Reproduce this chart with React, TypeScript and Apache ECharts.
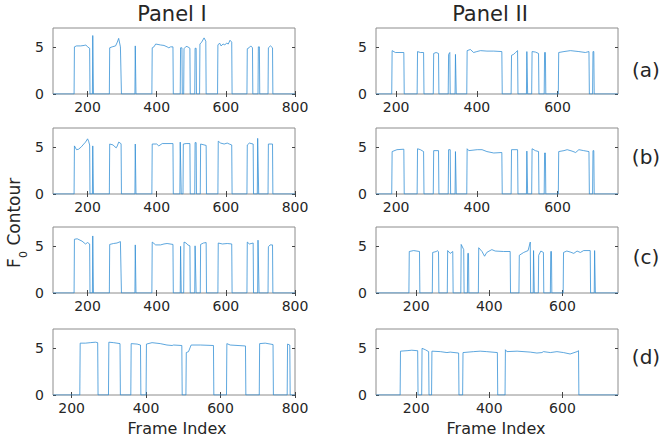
import React, { useEffect, useRef } from "react";
import * as echarts from "echarts";

type Pt = [number, number];
type Seg = Pt[];

// Panel I, row (a)
const p1a: Seg[] = [
  [[162, 5.0], [168, 5.1], [180, 5.1], [190, 5.15], [195, 5.2], [200, 5.0], [206, 4.85]],
  [[215, 6.2], [216, 6.2]],
  [[264, 4.9], [271, 5.0], [281, 5.1], [286, 5.5], [290, 5.9], [295, 5.0], [297, 5.0]],
  [[338, 5.1], [339, 5.1]],
  [[387, 4.9], [392, 5.0], [397, 5.3], [411, 5.2], [421, 5.15], [430, 5.0], [435, 4.9], [440, 5.0], [447, 5.0]],
  [[469, 4.9], [473, 4.9]],
  [[479, 4.8], [485, 5.05], [490, 5.0], [496, 4.85]],
  [[511, 4.85], [514, 4.85]],
  [[525, 5.3], [530, 5.5], [537, 5.95], [542, 5.6]],
  [[577, 5.2], [582, 5.4], [586, 5.1], [592, 5.3], [597, 5.2], [602, 5.4], [607, 5.3], [612, 5.7], [617, 5.5]],
  [[662, 4.8], [667, 4.9], [672, 5.1], [677, 4.9]],
  [[694, 5.0], [697, 5.0]],
  [[723, 4.9], [729, 5.1], [735, 4.9]],
];
// Panel I, row (b)
const p1b: Seg[] = [
  [[162, 5.1], [168, 4.7], [174, 4.75], [182, 5.0], [189, 5.3], [194, 5.5], [200, 5.85], [203, 5.6], [206, 5.2]],
  [[215, 5.1], [216, 5.1]],
  [[264, 5.3], [274, 5.2], [279, 5.0], [283, 4.9], [286, 5.1], [290, 5.5], [295, 5.4], [297, 5.3]],
  [[338, 5.3], [339, 5.3]],
  [[387, 5.3], [400, 5.3], [406, 5.1], [416, 5.35], [447, 5.35]],
  [[468, 5.5], [470, 5.5]],
  [[477, 5.3], [485, 5.35], [496, 5.35]],
  [[511, 5.45], [514, 5.45]],
  [[527, 5.3], [543, 5.15]],
  [[578, 5.6], [585, 5.4], [595, 5.3], [604, 5.4], [610, 5.3], [617, 5.2]],
  [[662, 5.2], [668, 5.4], [679, 5.3]],
  [[692, 5.9], [694, 5.9]],
  [[723, 5.3], [735, 5.3]],
];
// Panel I, row (c)
const p1c: Seg[] = [
  [[162, 5.7], [170, 5.75], [184, 5.5], [194, 5.2], [200, 5.35], [206, 5.2]],
  [[215, 6.05], [216, 6.05]],
  [[264, 5.15], [275, 5.25], [285, 5.3], [295, 5.45], [297, 5.45]],
  [[338, 5.1], [339, 5.1]],
  [[387, 5.4], [397, 5.1], [411, 5.1], [421, 5.2], [430, 5.25], [447, 5.15]],
  [[469, 4.95], [470, 4.95]],
  [[479, 5.4], [485, 5.3], [490, 5.1], [496, 5.0]],
  [[511, 5.0], [513, 5.0]],
  [[527, 5.15], [535, 5.3], [543, 5.35]],
  [[578, 5.3], [590, 5.2], [604, 5.25], [617, 5.2]],
  [[662, 5.4], [668, 5.2], [679, 5.3]],
  [[693, 5.6], [695, 5.6]],
  [[723, 4.9], [728, 5.1], [735, 5.1]],
];
// Panel I, row (d)
const p1d: Seg[] = [
  [[223, 5.5], [237, 5.5], [250, 5.55], [264, 5.6], [270, 5.55]],
  [[300, 5.6], [313, 5.55], [330, 5.45]],
  [[360, 5.45], [376, 5.4], [385, 5.3]],
  [[401, 5.4], [416, 5.55], [438, 5.45], [456, 5.3], [470, 5.25], [474, 5.3], [496, 5.25]],
  [[508, 4.5], [514, 4.6], [521, 5.3], [546, 5.3], [581, 5.25]],
  [[617, 5.45], [626, 5.3], [667, 5.2]],
  [[705, 5.45], [720, 5.5], [741, 5.35]],
  [[780, 5.4], [786, 5.3]],
];
// Panel II, row (a)
const p2a: Seg[] = [
  [[190, 4.6], [198, 4.4], [219, 4.4]],
  [[253, 4.5], [260, 4.4], [268, 4.4]],
  [[293, 4.3], [299, 4.4], [305, 4.3]],
  [[330, 4.2], [333, 4.4]],
  [[347, 4.2], [348, 4.2]],
  [[376, 4.6], [384, 4.72], [392, 4.4], [400, 4.5], [409, 4.6], [425, 4.55], [442, 4.55], [462, 4.5]],
  [[486, 4.1], [491, 4.2], [496, 4.4], [501, 4.6]],
  [[524, 4.5], [525, 4.5]],
  [[537, 4.5], [545, 4.45], [553, 4.3]],
  [[568, 4.4], [570, 4.4]],
  [[603, 4.4], [616, 4.5], [632, 4.6], [653, 4.5], [669, 4.4], [678, 4.5]],
  [[688, 4.5], [690, 4.5]],
];
// Panel II, row (b)
const p2b: Seg[] = [
  [[190, 4.5], [202, 4.7], [219, 4.75]],
  [[253, 4.8], [260, 4.7], [268, 4.5]],
  [[293, 4.6], [305, 4.6]],
  [[330, 4.7], [334, 4.7]],
  [[347, 4.5], [348, 4.5]],
  [[376, 4.8], [380, 4.6], [401, 4.7], [413, 4.7], [425, 4.5], [442, 4.35], [462, 4.4]],
  [[486, 4.7], [501, 4.7]],
  [[524, 4.55], [525, 4.55]],
  [[537, 4.8], [545, 4.6], [553, 4.5]],
  [[568, 4.35], [570, 4.35]],
  [[603, 4.5], [616, 4.6], [624, 4.7], [636, 4.55], [645, 4.4], [653, 4.7], [665, 4.6], [678, 4.5]],
  [[688, 4.6], [690, 4.6]],
];
// Panel II, row (c)
const p2c: Seg[] = [
  [[181, 4.4], [193, 4.5], [209, 4.4]],
  [[245, 4.3], [255, 4.4], [258, 4.5], [261, 4.35]],
  [[286, 4.5], [293, 4.2], [300, 4.4]],
  [[323, 5.15], [330, 4.6]],
  [[341, 4.2], [343, 4.2]],
  [[371, 4.8], [380, 4.4], [387, 3.9], [393, 4.3], [402, 4.5], [407, 4.6], [416, 4.45], [439, 4.4], [457, 4.4]],
  [[482, 4.0], [494, 4.3], [506, 4.5], [512, 5.4]],
  [[521, 4.5], [522, 4.5]],
  [[535, 4.0], [541, 4.45], [548, 4.3]],
  [[568, 4.4], [570, 4.4]],
  [[603, 4.3], [612, 4.45], [621, 4.35], [631, 4.2], [640, 4.45], [649, 4.3], [658, 4.5], [676, 4.5]],
  [[688, 4.5], [689, 4.5]],
];
// Panel II, row (d)
const p2d: Seg[] = [
  [[157, 4.65], [175, 4.7], [188, 4.75], [202, 4.7], [204, 4.7]],
  [[216, 4.95], [225, 4.8], [234, 4.6]],
  [[243, 4.65], [266, 4.6], [284, 4.5], [293, 4.55], [316, 4.45]],
  [[328, 4.5], [357, 4.6], [375, 4.65], [393, 4.6], [422, 4.5]],
  [[444, 4.8], [448, 4.6], [476, 4.65], [512, 4.55], [530, 4.45], [544, 4.5], [548, 4.6], [567, 4.5], [585, 4.6], [603, 4.5], [621, 4.35], [640, 4.6], [644, 4.7]],
];

const leftTicks = [200, 400, 600, 800];
const rightTicks = [200, 400, 600];
const yTicks = [0, 5];
const rowLabels = ["(a)", "(b)", "(c)", "(d)"];
const panelTitles = ["Panel I", "Panel II"];

// axis ranges per panel: [xmin, xmax]
const panelRanges: [number, number][] = [
  [100, 800], [150, 750],
  [100, 800], [150, 750],
  [100, 800], [90, 752],
  [150, 800], [90, 752],
];
const panelData: Seg[][] = [p1a, p2a, p1b, p2b, p1c, p2c, p1d, p2d];

function toLine(segs: Seg[], xmin: number, xmax: number): Pt[] {
  const out: Pt[] = [[xmin, 0]];
  for (const s of segs) {
    out.push([s[0][0] - 1, 0]);
    for (const p of s) out.push(p);
    out.push([s[s.length - 1][0] + 1, 0]);
  }
  out.push([xmax, 0]);
  return out;
}

const FONT = "DejaVu Sans";
const TXT = "#262626";
const BOX = "#8c8c8c";
const LINE = "#3590d6";

export default function App() {
  const ref = useRef<HTMLDivElement>(null);
  useEffect(() => {
    if (!ref.current) return;
    const chart = echarts.init(ref.current, undefined, { renderer: "svg" });
    const colLeft = [53, 376];
    const rowTop = [28, 128, 227, 329];
    const W = 242;
    const H = 66;
    const grids: any[] = [];
    const xAxes: any[] = [];
    const yAxes: any[] = [];
    const series: any[] = [];
    panelRanges.forEach((rng, i) => {
      const col = i % 2;
      const row = Math.floor(i / 2);
      grids.push({
        left: colLeft[col], top: rowTop[row], width: W, height: H,
        show: true, borderColor: BOX, borderWidth: 1, backgroundColor: "#fff",
      });
      const ticks = col === 0 ? leftTicks : rightTicks;
      const common = {
        type: "value", gridIndex: i, min: rng[0], max: rng[1],
        splitLine: { show: false }, axisLine: { show: false },
        axisTick: { show: true, inside: true, length: 3, customValues: ticks, lineStyle: { color: "#444" } },
      };
      xAxes.push({
        ...common, position: "bottom",
        axisLabel: { show: true, customValues: ticks, margin: 6, fontFamily: FONT, fontSize: 14, color: TXT },
      });
      xAxes.push({ ...common, position: "top", axisLabel: { show: false } });
      const ycommon = {
        type: "value", gridIndex: i, min: 0, max: 7,
        splitLine: { show: false }, axisLine: { show: false },
        axisTick: { show: true, inside: true, length: 3, customValues: yTicks, lineStyle: { color: "#444" } },
      };
      yAxes.push({
        ...ycommon, position: "left",
        axisLabel: { show: true, customValues: yTicks, margin: 9, fontFamily: FONT, fontSize: 14, color: TXT },
      });
      yAxes.push({ ...ycommon, position: "right", axisLabel: { show: false } });
      series.push({
        type: "line", xAxisIndex: i * 2, yAxisIndex: i * 2,
        data: toLine(panelData[i], rng[0], rng[1]),
        showSymbol: false, symbol: "none", silent: true,
        lineStyle: { color: LINE, width: 0.8 },
      });
    });

    const graphic: any[] = [
      { type: "text", x: 172, y: 14, style: { text: panelTitles[0], font: `21px '${FONT}'`, fill: TXT, align: "center", verticalAlign: "middle" } },
      { type: "text", x: 490, y: 14, style: { text: panelTitles[1], font: `21px '${FONT}'`, fill: TXT, align: "center", verticalAlign: "middle" } },
      { type: "text", x: 177, y: 428, style: { text: "Frame Index", font: `16px '${FONT}'`, fill: TXT, align: "center", verticalAlign: "middle" } },
      { type: "text", x: 496, y: 428, style: { text: "Frame Index", font: `16px '${FONT}'`, fill: TXT, align: "center", verticalAlign: "middle" } },
      {
        type: "group", x: 20, y: 222, rotation: Math.PI / 2,
        children: [
          { type: "text", x: -46, y: -6, style: { text: "F", font: `17px '${FONT}'`, fill: TXT, align: "left", verticalAlign: "middle" } },
          { type: "text", x: -36, y: 3, style: { text: "0", font: `11px '${FONT}'`, fill: TXT, align: "left", verticalAlign: "middle" } },
          { type: "text", x: -29, y: -6, style: { text: " Contour", font: `17px '${FONT}'`, fill: TXT, align: "left", verticalAlign: "middle" } },
        ],
      },
    ];
    const labelY = [70, 157, 257, 357];
    rowLabels.forEach((t, r) => {
      graphic.push({ type: "text", x: 646, y: labelY[r], style: { text: t, font: `20px '${FONT}'`, fill: TXT, align: "center", verticalAlign: "middle" } });
    });

    chart.setOption({
      animation: false,
      backgroundColor: "#fff",
      grid: grids,
      xAxis: xAxes,
      yAxis: yAxes,
      series,
      graphic,
    });
    return () => chart.dispose();
  }, []);
  return <div ref={ref} style={{ width: 661, height: 442, position: "absolute", left: 0, top: 0 }} />;
}
